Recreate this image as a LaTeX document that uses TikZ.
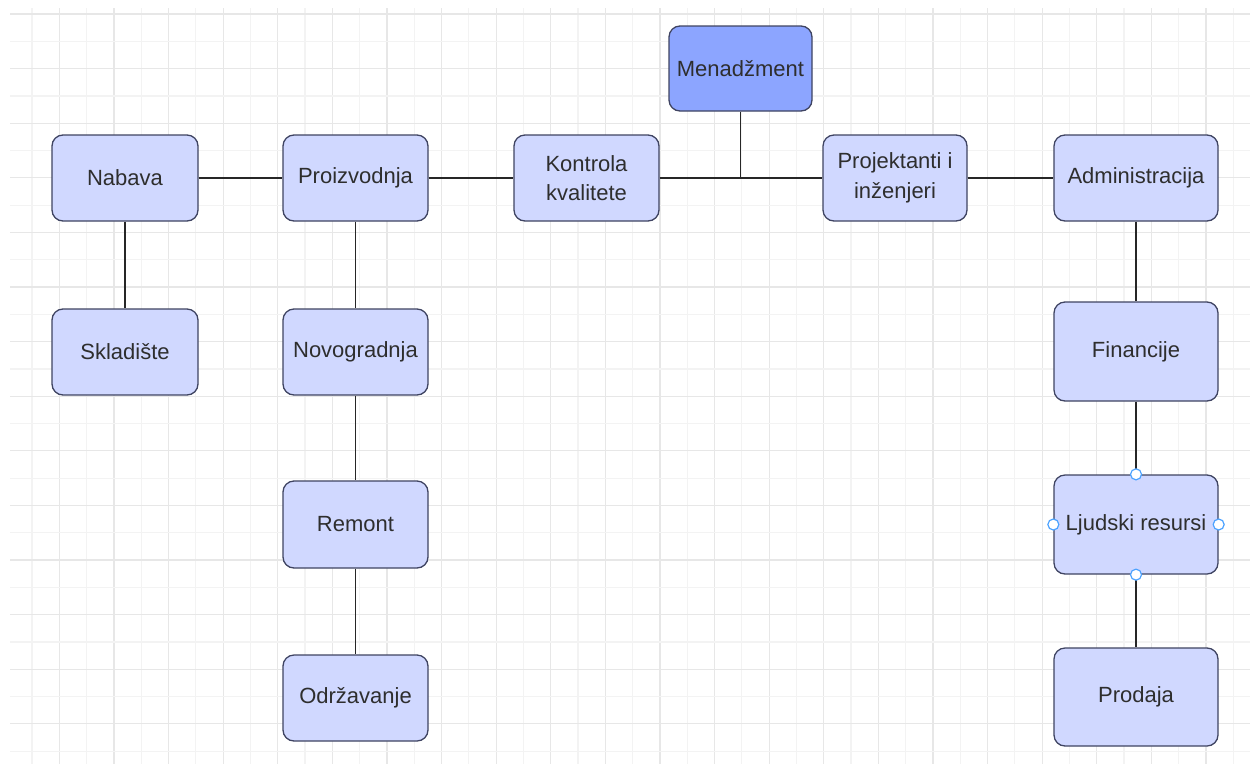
\documentclass[tikz,border=0pt]{standalone}
\usepackage{fontspec}
\setmainfont{Liberation Sans}
\definecolor{boxfill}{HTML}{D0D8FF}
\definecolor{topfill}{HTML}{8CA5FF}
\definecolor{boxline}{HTML}{3F4462}
\definecolor{txt}{HTML}{2E2E2E}
\definecolor{gridminor}{HTML}{F3F3F3}
\definecolor{gridmajor}{HTML}{E7E7E7}
\definecolor{handle}{HTML}{4DA3FF}
\tikzset{
  orgbox/.style={draw=boxline, line width=1.3pt, fill=boxfill, rounded corners=11pt,
    text=txt, align=center, inner sep=0pt, font=\fontsize{22}{29.5}\selectfont},
  topbox/.style={orgbox, fill=topfill},
  link/.style={draw=black!85, line width=1.3pt},
  selhandle/.style={circle, draw=handle, fill=white, line width=1.2pt, minimum size=11pt, inner sep=0pt}
}
\begin{document}
\begin{tikzpicture}[x=1pt,y=-1pt]
\useasboundingbox (0,0) rectangle (1250,764);
\fill[white] (0,0) rectangle (1250,764);
% grid
\foreach \i in {0,...,22} {
  \draw[gridminor, line width=1.2pt] ({32+54.6*\i},8) -- ({32+54.6*\i},764);
  \draw[gridmajor, line width=1.2pt] ({59.3+54.6*\i},8) -- ({59.3+54.6*\i},764);
}
\foreach \i in {0,...,14} {
  \draw[gridmajor, line width=1.2pt] (10,{14+54.6*\i}) -- (1250,{14+54.6*\i});
  \draw[gridminor, line width=1.2pt] (10,{41.3+54.6*\i}) -- (1250,{41.3+54.6*\i});
}
% nodes
\node[topbox, minimum width=143pt, minimum height=85pt] (men) at (740.5,68.5) {Menadžment};
\node[orgbox, minimum width=146pt, minimum height=86pt] (nab) at (125,178) {Nabava};
\node[orgbox, minimum width=145pt, minimum height=86pt] (pro) at (355.5,178) {Proizvodnja};
\node[orgbox, minimum width=145pt, minimum height=86pt] (kon) at (586.5,178) {Kontrola\\kvalitete};
\node[orgbox, minimum width=144pt, minimum height=86pt] (prj) at (895,178) {Projektanti i\\inženjeri};
\node[orgbox, minimum width=164pt, minimum height=86pt] (adm) at (1136,178) {Administracija};
\node[orgbox, minimum width=146pt, minimum height=86pt] (skl) at (125,352) {Skladište};
\node[orgbox, minimum width=145pt, minimum height=86pt] (nov) at (355.5,352) {Novogradnja};
\node[orgbox, minimum width=145pt, minimum height=87pt] (rem) at (355.5,524.5) {Remont};
\node[orgbox, minimum width=145pt, minimum height=86pt] (odr) at (355.5,698) {Održavanje};
\node[orgbox, minimum width=164pt, minimum height=99pt] (fin) at (1136,351.5) {Financije};
\node[orgbox, minimum width=164pt, minimum height=99pt] (lju) at (1136,524.5) {Ljudski resursi};
\node[orgbox, minimum width=164pt, minimum height=98pt] (prd) at (1136,697) {Prodaja};
\coordinate (j) at (men.south |- kon.east);
% connectors
\draw[link] (nab.east) -- (pro.west);
\draw[link] (pro.east) -- (kon.west);
\draw[link] (kon.east) -- (prj.west);
\draw[link] (men.south) -- (j);
\draw[link] (prj.east) -- (adm.west);
\draw[link] (nab.south) -- (skl.north);
\draw[link] (pro.south) -- (nov.north);
\draw[link] (nov.south) -- (rem.north);
\draw[link] (rem.south) -- (odr.north);
\draw[link] (adm.south) -- (fin.north);
\draw[link] (fin.south) -- (lju.north);
\draw[link] (lju.south) -- (prd.north);
% selection handles
\node[selhandle] (h1) at (lju.north) {};
\node[selhandle] (h2) at (lju.south) {};
\node[selhandle] (h3) at (lju.west) {};
\node[selhandle] (h4) at (lju.east) {};
\end{tikzpicture}
\end{document}
